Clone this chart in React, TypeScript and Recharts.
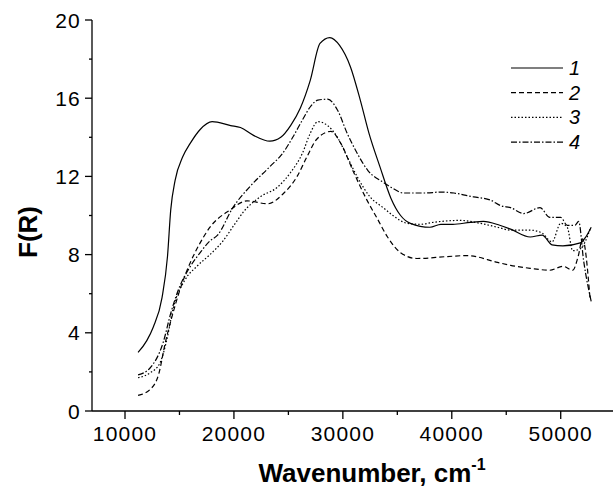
import React from "react";
import { LineChart, Line, XAxis, YAxis, Legend } from "recharts";

// wavenumber (cm-1) and F(R) for each sample
const wn1 = [11200, 12000, 12600, 13400, 13900, 14200, 14600, 15300, 16000, 16900, 18000, 19700, 20600, 21800, 23300, 24300, 25200, 26100, 27000, 27900, 28800, 29700, 30700, 31600, 32400, 33400, 34400, 35300, 36200, 38000, 39000, 40100, 41700, 42900, 44400, 45400, 47200, 48300, 49200, 50200, 51800, 52300, 52800];
const f1 = [3.0, 3.6, 4.3, 5.8, 7.9, 10.3, 11.8, 13.0, 13.7, 14.4, 14.8, 14.6, 14.5, 14.1, 13.8, 14.0, 14.6, 15.5, 16.9, 18.8, 19.1, 18.7, 17.6, 15.9, 14.2, 12.5, 10.9, 10.0, 9.6, 9.4, 9.55, 9.55, 9.65, 9.7, 9.5, 9.3, 8.9, 9.0, 8.5, 8.45, 8.6, 8.9, 9.4];

const wn2 = [11200, 12300, 13100, 13700, 14300, 15100, 16000, 16900, 17800, 19700, 21200, 23100, 24500, 25800, 26700, 27600, 28900, 29800, 31000, 32200, 33200, 34100, 35300, 36800, 39600, 41400, 44200, 45400, 47200, 49000, 50200, 51100, 51600, 52000, 52700];
const f2 = [0.8, 1.1, 1.9, 3.5, 4.8, 6.3, 7.6, 8.6, 9.4, 10.3, 10.75, 10.6, 11.1, 12.0, 13.0, 13.9, 14.3, 13.7, 12.2, 10.8, 9.8, 8.9, 8.1, 7.8, 7.9, 7.95, 7.6, 7.45, 7.3, 7.2, 7.4, 7.2, 7.9, 8.8, 5.7];

const wn3 = [11200, 12300, 13200, 13900, 14400, 15500, 16600, 17800, 19000, 20000, 20900, 22400, 24000, 25200, 26300, 27000, 27700, 28600, 29500, 30400, 31300, 32500, 33700, 34600, 35900, 37100, 38300, 40800, 42600, 44200, 45400, 47200, 48300, 49200, 50000, 50600, 51100, 51800, 52700];
const f3 = [1.7, 1.95, 2.45, 3.8, 5.2, 6.7, 7.4, 8.0, 8.7, 9.5, 10.2, 10.95, 11.45, 12.2, 13.2, 14.2, 14.8, 14.6, 14.0, 13.0, 12.0, 10.95, 10.4, 10.0, 9.6, 9.55, 9.65, 9.75, 9.6, 9.4, 9.25, 9.25, 9.1, 8.65, 9.6, 9.4, 8.2, 8.3, 9.3];

const wn4 = [11200, 12300, 13500, 14200, 14900, 16000, 16900, 17800, 18500, 19900, 21500, 23300, 24500, 25400, 26300, 27000, 27700, 28600, 29500, 30400, 31300, 32300, 33700, 34400, 35600, 37500, 39000, 40200, 42000, 43500, 44500, 45400, 46600, 48100, 49000, 50000, 50600, 51300, 51650, 52100, 52800];
const f4 = [1.85, 2.2, 3.5, 5.0, 6.2, 7.4, 8.1, 8.7, 9.0, 10.4, 11.5, 12.5, 13.2, 14.0, 14.9, 15.55, 15.9, 15.95, 15.4, 14.2, 13.2, 12.3, 11.7, 11.45, 11.15, 11.15, 11.2, 11.15, 10.95, 10.8, 10.5, 10.4, 10.1, 10.4, 9.9, 9.9, 9.5, 9.5, 9.7, 7.7, 5.6];

const xTicks = [10000, 15000, 20000, 25000, 30000, 35000, 40000, 45000, 50000];
const yTicks = [0, 2, 4, 6, 8, 10, 12, 14, 16, 18, 20];

const zip = (xs: number[], ys: number[]) => xs.map((x, i) => ({ wn: x, f: ys[i] }));

const series = [
  { name: "1", data: zip(wn1, f1), dash: undefined as string | undefined },
  { name: "2", data: zip(wn2, f2), dash: "5 3" },
  { name: "3", data: zip(wn3, f3), dash: "1.5 2" },
  { name: "4", data: zip(wn4, f4), dash: "6 2 1.5 2" },
];

const FONT = "'Liberation Sans', Arial, sans-serif";

function XTick(props: any) {
  const { x, y, payload } = props;
  const major = payload.value % 10000 === 0;
  return (
    <g>
      <line x1={x} y1={y} x2={x} y2={y + (major ? 8 : 4)} stroke="#000" strokeWidth={1.3} />
      {major && (
        <text x={x} y={y + 30} textAnchor="middle" fontSize={21} letterSpacing={1.2} fill="#000" fontFamily={FONT}>
          {payload.value}
        </text>
      )}
    </g>
  );
}

function YTick(props: any) {
  const { x, y, payload } = props;
  const major = payload.value % 4 === 0;
  return (
    <g>
      <line x1={x} y1={y} x2={x - (major ? 7 : 3)} y2={y} stroke="#000" strokeWidth={1.3} />
      {major && (
        <text x={x - 11} y={y + 7.5} textAnchor="end" fontSize={21} letterSpacing={1.2} fill="#000" fontFamily={FONT}>
          {payload.value}
        </text>
      )}
    </g>
  );
}

function renderLegend() {
  return (
    <svg width={100} height={100}>
      {series.map((s, i) => (
        <g key={s.name}>
          <line x1={6} x2={58} y1={12 + i * 24.7} y2={12 + i * 24.7} stroke="#000" strokeWidth={1.2} strokeDasharray={s.dash} />
          <text x={64} y={19 + i * 24.7} fontSize={20} fontStyle="italic" fontFamily={FONT} fill="#000">
            {s.name}
          </text>
        </g>
      ))}
    </svg>
  );
}

export default function App() {
  return (
    <div style={{ position: "absolute", left: 0, top: 0, background: "#fff" }}>
      <LineChart width={613} height={492} margin={{ top: 20, right: 0, left: 0, bottom: 0 }}>
        <XAxis
          type="number"
          dataKey="wn"
          domain={[6970, 54800]}
          ticks={xTicks}
          allowDataOverflow
          height={81}
          tickSize={0}
          tickMargin={0}
          tickLine={false}
          tick={<XTick />}
          axisLine={{ stroke: "#000", strokeWidth: 1.3 }}
          label={{
            content: () => (
              <text x={372} y={482} textAnchor="middle" fontSize={26} fontWeight="bold" fontFamily={FONT} fill="#000">
                Wavenumber, cm
                <tspan fontSize={16} dy={-12}>-1</tspan>
              </text>
            ),
          }}
        />
        <YAxis
          type="number"
          dataKey="f"
          domain={[0, 20]}
          ticks={yTicks}
          width={92}
          tickSize={0}
          tickMargin={0}
          tickLine={false}
          tick={<YTick />}
          axisLine={{ stroke: "#000", strokeWidth: 1.3 }}
          label={{
            content: () => (
              <text
                x={28}
                y={232}
                transform="rotate(-90 28 232)"
                textAnchor="middle"
                dominantBaseline="central"
                fontSize={26}
                fontWeight="bold"
                fontFamily={FONT}
                fill="#000"
              >
                F(R)
              </text>
            ),
          }}
        />
        <Legend
          layout="vertical"
          align="center"
          verticalAlign="middle"
          content={renderLegend}
          wrapperStyle={{ position: "absolute", left: 505, top: 56, width: 100, height: 100 }}
        />
        {series.map((s) => (
          <Line
            key={s.name}
            name={s.name}
            data={s.data}
            dataKey="f"
            type="monotone"
            stroke="#000"
            strokeWidth={1.2}
            strokeDasharray={s.dash}
            dot={false}
            activeDot={false}
            isAnimationActive={false}
          />
        ))}
      </LineChart>
    </div>
  );
}
